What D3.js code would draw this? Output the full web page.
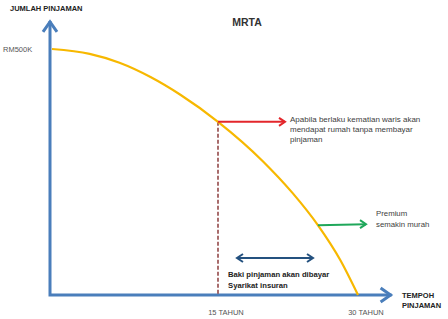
<!DOCTYPE html>
<html>
<head>
<meta charset="utf-8">
<script src="https://cdn.jsdelivr.net/npm/d3@7"></script>
<style>
  html, body { margin: 0; padding: 0; background: #fff; }
  svg { display: block; }
  svg text { font-family: "Liberation Sans", Arial, sans-serif; }
</style>
</head>
<body>
<svg id="chart" width="448" height="319"></svg>
<script>
// curve: remaining loan (RM thousand) by year of tenure
const years = [0, 3.4, 6.1, 8.9, 11.6, 15, 19.8, 23, 25.7, 28.1, 30];
const loan = [500, 490, 472, 443, 407, 352, 272, 207, 142, 71, 0];
const xTicks = [15, 30];
const xTickLabels = ["15 TAHUN", "30 TAHUN"];
const yTicks = [500];
const yTickLabels = ["RM500K"];
const xAxisEnd = 33.6;
const yAxisEnd = 557;

(() => {
  const svg = d3.select("#chart");
  const axisBlue = "#4a7ebb";
  const gold = "#f7b800";
  const grey = "#404040";

  // tenure axis is drawn unevenly in the original, so map through 3 stops
  const x = d3.scaleLinear().domain([0, 15, 30]).range([52, 218, 358]);
  const y = d3.scaleLinear().domain([0, 500]).range([295, 49]);

  const x0 = x(0) - 2;
  const y0 = y(0);

  // axes
  svg.append("path")
    .attr("d", `M${x0},${y(yAxisEnd)} L${x0},${y0} L${x(xAxisEnd)},${y0}`)
    .attr("fill", "none")
    .attr("stroke", axisBlue)
    .attr("stroke-width", 3)
    .attr("stroke-linejoin", "miter");

  const tipY = y(yAxisEnd);
  svg.append("path")
    .attr("d", `M${x0 - 7},${tipY + 11} L${x0},${tipY + 1} L${x0 + 7},${tipY + 11}`)
    .attr("fill", "none").attr("stroke", axisBlue).attr("stroke-width", 3);
  const tipX = x(xAxisEnd);
  svg.append("path")
    .attr("d", `M${tipX - 11},${y0 - 7} L${tipX - 1},${y0} L${tipX - 11},${y0 + 7}`)
    .attr("fill", "none").attr("stroke", axisBlue).attr("stroke-width", 3);

  // dashed marker at 15 years
  const i15 = years.indexOf(15);
  svg.append("line")
    .attr("x1", x(15)).attr("x2", x(15))
    .attr("y1", y(loan[i15])).attr("y2", y0 - 1)
    .attr("stroke", "#7b1f1f")
    .attr("stroke-width", 1.3)
    .attr("stroke-dasharray", "4,2");

  // curve
  const line = d3.line()
    .x((d, i) => x(years[i]))
    .y((d) => y(d))
    .curve(d3.curveMonotoneX);
  svg.append("path")
    .datum(loan)
    .attr("d", line)
    .attr("fill", "none")
    .attr("stroke", gold)
    .attr("stroke-width", 2.2);

  function arrow(x1, y1, x2, y2, color, both) {
    svg.append("line")
      .attr("x1", x1).attr("y1", y1).attr("x2", x2).attr("y2", y2)
      .attr("stroke", color).attr("stroke-width", 2);
    const head = (tx, dir) => {
      svg.append("path")
        .attr("d", `M${tx - dir * 6},${y2 - 4} L${tx},${y2} L${tx - dir * 6},${y2 + 4}`)
        .attr("fill", "none").attr("stroke", color).attr("stroke-width", 2);
    };
    head(x2, 1);
    if (both) head(x1, -1);
  }

  const i26 = years.indexOf(25.7);
  arrow(x(15), y(loan[i15]), 285, y(loan[i15]), "#e3262b");
  arrow(x(25.7), y(loan[i26]), 366, y(loan[i26]) - 1, "#1fa75a");
  arrow(237, 258, 313, 258, "#24517f", true);

  function label(tx, ty, lines, opts) {
    const t = svg.append("text")
      .attr("x", tx).attr("y", ty)
      .attr("font-size", opts.size)
      .attr("font-weight", opts.bold ? 700 : 400)
      .attr("fill", opts.color || grey)
      .attr("text-anchor", opts.anchor || "start");
    lines.forEach((s, i) => {
      t.append("tspan").attr("x", tx).attr("dy", i === 0 ? 0 : opts.lh).text(s);
    });
  }

  label(10, 11, ["JUMLAH PINJAMAN"], { size: 7.5, bold: true, color: "#222" });
  label(247, 26, ["MRTA"], { size: 10.5, bold: true, color: "#333", anchor: "middle" });

  yTicks.forEach((v, i) => {
    label(3, y(v) + 3, [yTickLabels[i]], { size: 7.5, color: "#555" });
  });
  xTicks.forEach((v, i) => {
    label(x(v) + 8, 315, [xTickLabels[i]], { size: 7.5, color: "#555", anchor: "middle" });
  });

  label(290, 122, ["Apabila berlaku kematian waris akan", "mendapat rumah tanpa membayar", "pinjaman"],
    { size: 8, lh: 10.2 });
  label(376, 216, ["Premium", "semakin murah"], { size: 7.8, lh: 11 });
  label(228, 277, ["Baki pinjaman akan dibayar", "Syarikat insuran"],
    { size: 7.7, bold: true, lh: 10.5, color: "#222" });
  label(402, 298, ["TEMPOH", "PINJAMAN"], { size: 7.5, bold: true, lh: 9.5, color: "#222" });
})();
</script>
</body>
</html>
